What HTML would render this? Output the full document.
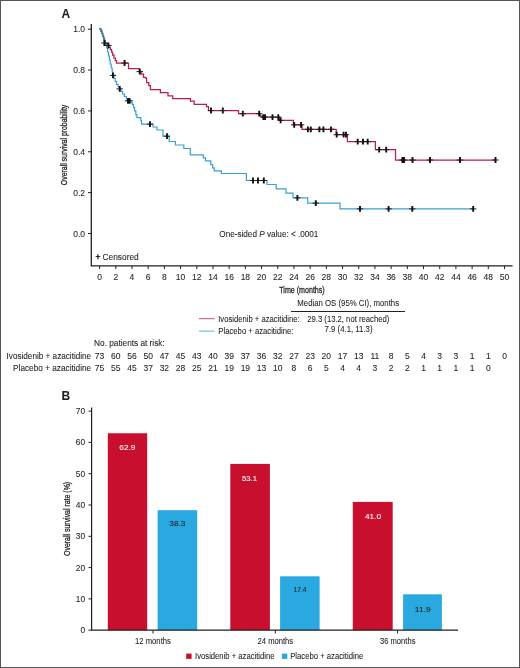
<!DOCTYPE html><html><head><meta charset="utf-8"><style>html,body{margin:0;padding:0;background:#fff;}svg{display:block;will-change:transform}</style></head><body>
<svg width="520" height="668" viewBox="0 0 520 668" style="font-family:'Liberation Sans', sans-serif">
<style>text{stroke:#231f20;stroke-width:0.08px}</style>
<rect x="0" y="0" width="520" height="668" fill="#fff"/>
<rect x="0.5" y="0.5" width="519" height="667" fill="none" stroke="#555" stroke-width="1"/>
<text x="61.5" y="17.6" font-size="12" font-weight="700" fill="#231f20">A</text>
<path d="M91.3 24 V265.8 H512.6" fill="none" stroke="#231f20" stroke-width="1.3"/>
<line x1="88" y1="233.50" x2="91" y2="233.50" stroke="#231f20" stroke-width="1"/>
<text x="85" y="236.50" font-size="8.5" text-anchor="end" fill="#231f20">0.0</text>
<line x1="88" y1="192.64" x2="91" y2="192.64" stroke="#231f20" stroke-width="1"/>
<text x="85" y="195.64" font-size="8.5" text-anchor="end" fill="#231f20">0.2</text>
<line x1="88" y1="151.78" x2="91" y2="151.78" stroke="#231f20" stroke-width="1"/>
<text x="85" y="154.78" font-size="8.5" text-anchor="end" fill="#231f20">0.4</text>
<line x1="88" y1="110.92" x2="91" y2="110.92" stroke="#231f20" stroke-width="1"/>
<text x="85" y="113.92" font-size="8.5" text-anchor="end" fill="#231f20">0.6</text>
<line x1="88" y1="70.06" x2="91" y2="70.06" stroke="#231f20" stroke-width="1"/>
<text x="85" y="73.06" font-size="8.5" text-anchor="end" fill="#231f20">0.8</text>
<line x1="88" y1="29.20" x2="91" y2="29.20" stroke="#231f20" stroke-width="1"/>
<text x="85" y="32.20" font-size="8.5" text-anchor="end" fill="#231f20">1.0</text>
<line x1="99.60" y1="266" x2="99.60" y2="269" stroke="#231f20" stroke-width="1"/>
<text x="99.60" y="279.7" font-size="8.5" text-anchor="middle" fill="#231f20">0</text>
<line x1="115.80" y1="266" x2="115.80" y2="269" stroke="#231f20" stroke-width="1"/>
<text x="115.80" y="279.7" font-size="8.5" text-anchor="middle" fill="#231f20">2</text>
<line x1="131.99" y1="266" x2="131.99" y2="269" stroke="#231f20" stroke-width="1"/>
<text x="131.99" y="279.7" font-size="8.5" text-anchor="middle" fill="#231f20">4</text>
<line x1="148.19" y1="266" x2="148.19" y2="269" stroke="#231f20" stroke-width="1"/>
<text x="148.19" y="279.7" font-size="8.5" text-anchor="middle" fill="#231f20">6</text>
<line x1="164.38" y1="266" x2="164.38" y2="269" stroke="#231f20" stroke-width="1"/>
<text x="164.38" y="279.7" font-size="8.5" text-anchor="middle" fill="#231f20">8</text>
<line x1="180.58" y1="266" x2="180.58" y2="269" stroke="#231f20" stroke-width="1"/>
<text x="180.58" y="279.7" font-size="8.5" text-anchor="middle" fill="#231f20">10</text>
<line x1="196.78" y1="266" x2="196.78" y2="269" stroke="#231f20" stroke-width="1"/>
<text x="196.78" y="279.7" font-size="8.5" text-anchor="middle" fill="#231f20">12</text>
<line x1="212.97" y1="266" x2="212.97" y2="269" stroke="#231f20" stroke-width="1"/>
<text x="212.97" y="279.7" font-size="8.5" text-anchor="middle" fill="#231f20">14</text>
<line x1="229.17" y1="266" x2="229.17" y2="269" stroke="#231f20" stroke-width="1"/>
<text x="229.17" y="279.7" font-size="8.5" text-anchor="middle" fill="#231f20">16</text>
<line x1="245.36" y1="266" x2="245.36" y2="269" stroke="#231f20" stroke-width="1"/>
<text x="245.36" y="279.7" font-size="8.5" text-anchor="middle" fill="#231f20">18</text>
<line x1="261.56" y1="266" x2="261.56" y2="269" stroke="#231f20" stroke-width="1"/>
<text x="261.56" y="279.7" font-size="8.5" text-anchor="middle" fill="#231f20">20</text>
<line x1="277.76" y1="266" x2="277.76" y2="269" stroke="#231f20" stroke-width="1"/>
<text x="277.76" y="279.7" font-size="8.5" text-anchor="middle" fill="#231f20">22</text>
<line x1="293.95" y1="266" x2="293.95" y2="269" stroke="#231f20" stroke-width="1"/>
<text x="293.95" y="279.7" font-size="8.5" text-anchor="middle" fill="#231f20">24</text>
<line x1="310.15" y1="266" x2="310.15" y2="269" stroke="#231f20" stroke-width="1"/>
<text x="310.15" y="279.7" font-size="8.5" text-anchor="middle" fill="#231f20">26</text>
<line x1="326.34" y1="266" x2="326.34" y2="269" stroke="#231f20" stroke-width="1"/>
<text x="326.34" y="279.7" font-size="8.5" text-anchor="middle" fill="#231f20">28</text>
<line x1="342.54" y1="266" x2="342.54" y2="269" stroke="#231f20" stroke-width="1"/>
<text x="342.54" y="279.7" font-size="8.5" text-anchor="middle" fill="#231f20">30</text>
<line x1="358.74" y1="266" x2="358.74" y2="269" stroke="#231f20" stroke-width="1"/>
<text x="358.74" y="279.7" font-size="8.5" text-anchor="middle" fill="#231f20">32</text>
<line x1="374.93" y1="266" x2="374.93" y2="269" stroke="#231f20" stroke-width="1"/>
<text x="374.93" y="279.7" font-size="8.5" text-anchor="middle" fill="#231f20">34</text>
<line x1="391.13" y1="266" x2="391.13" y2="269" stroke="#231f20" stroke-width="1"/>
<text x="391.13" y="279.7" font-size="8.5" text-anchor="middle" fill="#231f20">36</text>
<line x1="407.32" y1="266" x2="407.32" y2="269" stroke="#231f20" stroke-width="1"/>
<text x="407.32" y="279.7" font-size="8.5" text-anchor="middle" fill="#231f20">38</text>
<line x1="423.52" y1="266" x2="423.52" y2="269" stroke="#231f20" stroke-width="1"/>
<text x="423.52" y="279.7" font-size="8.5" text-anchor="middle" fill="#231f20">40</text>
<line x1="439.72" y1="266" x2="439.72" y2="269" stroke="#231f20" stroke-width="1"/>
<text x="439.72" y="279.7" font-size="8.5" text-anchor="middle" fill="#231f20">42</text>
<line x1="455.91" y1="266" x2="455.91" y2="269" stroke="#231f20" stroke-width="1"/>
<text x="455.91" y="279.7" font-size="8.5" text-anchor="middle" fill="#231f20">44</text>
<line x1="472.11" y1="266" x2="472.11" y2="269" stroke="#231f20" stroke-width="1"/>
<text x="472.11" y="279.7" font-size="8.5" text-anchor="middle" fill="#231f20">46</text>
<line x1="488.30" y1="266" x2="488.30" y2="269" stroke="#231f20" stroke-width="1"/>
<text x="488.30" y="279.7" font-size="8.5" text-anchor="middle" fill="#231f20">48</text>
<line x1="504.50" y1="266" x2="504.50" y2="269" stroke="#231f20" stroke-width="1"/>
<text x="504.50" y="279.7" font-size="8.5" text-anchor="middle" fill="#231f20">50</text>
<text transform="translate(66.96,185.13) rotate(-90)" x="0" y="0" font-size="9.2" fill="#231f20" style="stroke-width:0.28px" textLength="80.45" lengthAdjust="spacingAndGlyphs">Overall survival probability</text>
<text x="279.24" y="293.10" font-size="8.9" fill="#231f20" textLength="45.50" lengthAdjust="spacingAndGlyphs" style="stroke-width:0.28px">Time (months)</text>
<text x="95.40" y="259.60" font-size="8.3" fill="#231f20" textLength="43.33" lengthAdjust="spacingAndGlyphs"><tspan style="stroke-width:0.45px">+</tspan> Censored</text>
<text x="219.31" y="236.60" font-size="8.3" fill="#231f20" textLength="99.09" lengthAdjust="spacingAndGlyphs">One-sided <tspan font-style="italic">P</tspan> value: &lt; .0001</text>
<path d="M99.6 29 H100.6 V31 H101.6 V33.5 H102.6 V36 H103.6 V39 H104.6 V42 H105.6 V43.6 H107.4 V45.3 H108.8 V47.4 H110.4 V49.5 H111.6 V52 H112.6 V55 H114 V58 H115.3 V60.6 H116.5 V63 H128.5 V68.5 H139.3 V71.6 H141.2 V74.2 H143.5 V77.3 H145.8 V78.4 H146.6 V82.7 H148.8 V85.5 H150.4 V89.6 H160.4 V92.7 H168 V95.8 H172.7 V98.5 H190.4 V101.2 H194.2 V104.3 H206.5 V106.6 H208.5 V110.5 H238.5 V113.7 H260.2 V116 H262.2 V117.1 H279.4 V120.4 H293.4 V124.8 H302.1 V129.3 H336.2 V134.7 H347.4 V141.6 H375.4 V149.6 H395.5 V160 H496" fill="none" stroke="#b81f45" stroke-width="1.25" stroke-linejoin="miter"/>
<path d="M99.6 29 H100.6 V31 H101.6 V33.5 H102.6 V36 H103.6 V39 H104.6 V42 H105.6 V44.5 H106.6 V48 H107.6 V52 H108.6 V56 H109.4 V60 H110.2 V64 H111.2 V68 H112.2 V72 H113 V75.4 H114 V78.5 H115.2 V81.5 H116.6 V84.5 H118.2 V87 H119.7 V89 H121 V91.5 H122.6 V94 H124.4 V96.5 H126.4 V99 H128.5 V100.8 H130.8 V102.6 H132.3 V104.6 H133.6 V107.6 H134.6 V110.8 H135.8 V114.6 H136.9 V117.7 H140.8 V120.5 H141.5 V124.2 H153 V127 H157 V130 H163 V136.2 H169.2 V141.5 H175.4 V145 H183.8 V148.5 H190.3 V154.9 H203.3 V157.8 H205.5 V160.9 H210.8 V164.6 H212.7 V167.9 H214.2 V170.8 H221.4 V173.5 H246.4 V180.5 H267 V184.5 H276.2 V188.8 H286 V193.2 H293 V197.8 H307.7 V203.2 H340 V208.9 H473.8" fill="none" stroke="#3a9fd2" stroke-width="1.2" stroke-linejoin="miter"/>
<path d="M99.3 28.4 H100.2 V29.3 H101.4 V30.6 H102 V33 H102.8 V35.5 H103.5 V38 H104.2 V40.5 H104.9 V43 H106 V44.6" fill="none" stroke="#4a7790" stroke-width="1.15"/>
<path d="M101.20 43.00 H107.60 M105.20 45.50 H111.60 M121.40 63.00 H127.80 M136.60 71.60 H143.00 M207.80 110.50 H214.20 M219.60 110.50 H226.00 M239.60 113.70 H246.00 M256.00 113.70 H262.40 M260.10 117.10 H266.50 M261.80 117.10 H268.20 M269.30 117.10 H275.70 M275.10 117.10 H281.50 M277.40 120.40 H283.80 M291.00 124.80 H297.40 M297.80 124.80 H304.20 M304.70 129.30 H311.10 M307.60 129.30 H314.00 M316.20 129.30 H322.60 M320.20 129.30 H326.60 M327.80 129.30 H334.20 M333.50 134.70 H339.90 M340.40 134.70 H346.80 M342.80 134.70 H349.20 M354.50 141.60 H360.90 M359.80 141.60 H366.20 M364.50 141.60 H370.90 M376.00 149.60 H382.40 M383.00 149.60 H389.40 M399.20 160.00 H405.60 M400.80 160.00 H407.20 M409.30 160.00 H415.70 M426.80 160.00 H433.20 M456.80 160.00 H463.20 M492.30 160.00 H498.70 M109.80 75.40 H116.20 M116.50 88.90 H122.90 M124.80 100.80 H131.20 M126.40 100.80 H132.80 M146.80 124.20 H153.20 M163.80 136.20 H170.20 M249.80 180.50 H256.20 M254.80 180.50 H261.20 M260.60 180.50 H267.00 M294.20 197.80 H300.60 M312.60 203.20 H319.00 M356.80 208.90 H363.20 M385.40 208.90 H391.80 M409.10 208.90 H415.50 M470.00 208.90 H476.40" fill="none" stroke="#222" stroke-width="1"/>
<path d="M104.40 40.10 V45.90 M108.40 42.60 V48.40 M124.60 60.10 V65.90 M139.80 68.70 V74.50 M211.00 107.60 V113.40 M222.80 107.60 V113.40 M242.80 110.80 V116.60 M259.20 110.80 V116.60 M263.30 114.20 V120.00 M265.00 114.20 V120.00 M272.50 114.20 V120.00 M278.30 114.20 V120.00 M280.60 117.50 V123.30 M294.20 121.90 V127.70 M301.00 121.90 V127.70 M307.90 126.40 V132.20 M310.80 126.40 V132.20 M319.40 126.40 V132.20 M323.40 126.40 V132.20 M331.00 126.40 V132.20 M336.70 131.80 V137.60 M343.60 131.80 V137.60 M346.00 131.80 V137.60 M357.70 138.70 V144.50 M363.00 138.70 V144.50 M367.70 138.70 V144.50 M379.20 146.70 V152.50 M386.20 146.70 V152.50 M402.40 157.10 V162.90 M404.00 157.10 V162.90 M412.50 157.10 V162.90 M430.00 157.10 V162.90 M460.00 157.10 V162.90 M495.50 157.10 V162.90 M113.00 72.50 V78.30 M119.70 86.00 V91.80 M128.00 97.90 V103.70 M129.60 97.90 V103.70 M150.00 121.30 V127.10 M167.00 133.30 V139.10 M253.00 177.60 V183.40 M258.00 177.60 V183.40 M263.80 177.60 V183.40 M297.40 194.90 V200.70 M315.80 200.30 V206.10 M360.00 206.00 V211.80 M388.60 206.00 V211.80 M412.30 206.00 V211.80 M473.20 206.00 V211.80" fill="none" stroke="#111" stroke-width="1.9"/>
<text x="297.36" y="306.30" font-size="8.3" fill="#231f20" textLength="101.72" lengthAdjust="spacingAndGlyphs">Median OS (95% CI), months</text>
<line x1="291" y1="311.5" x2="405" y2="311.5" stroke="#231f20" stroke-width="1"/>
<line x1="199" y1="318.7" x2="214.6" y2="318.7" stroke="#b81f45" stroke-width="0.8"/>
<line x1="199" y1="331.1" x2="214.6" y2="331.1" stroke="#3a9fd2" stroke-width="0.8"/>
<text x="218.20" y="321.80" font-size="8.3" fill="#231f20" textLength="81.51" lengthAdjust="spacingAndGlyphs">Ivosidenib + azacitidine:</text>
<text x="218.37" y="333.80" font-size="8.3" fill="#231f20" textLength="75.04" lengthAdjust="spacingAndGlyphs">Placebo + azacitidine:</text>
<text x="307.22" y="322.10" font-size="8.3" fill="#231f20" textLength="82.08" lengthAdjust="spacingAndGlyphs">29.3 (13.2, not reached)</text>
<text x="324.60" y="332.10" font-size="8.3" fill="#231f20" textLength="47.90" lengthAdjust="spacingAndGlyphs">7.9 (4.1, 11.3)</text>
<text x="94.12" y="346.00" font-size="8.4" fill="#231f20" textLength="70.63" lengthAdjust="spacingAndGlyphs">No. patients at risk:</text>
<text x="6.55" y="358.90" font-size="8.4" fill="#231f20" textLength="84.61" lengthAdjust="spacingAndGlyphs">Ivosidenib + azacitidine</text>
<text x="13.12" y="371.40" font-size="8.4" fill="#231f20" textLength="78.04" lengthAdjust="spacingAndGlyphs">Placebo + azacitidine</text>
<text x="99.60" y="358.9" font-size="8.5" text-anchor="middle" fill="#231f20">73</text>
<text x="115.80" y="358.9" font-size="8.5" text-anchor="middle" fill="#231f20">60</text>
<text x="131.99" y="358.9" font-size="8.5" text-anchor="middle" fill="#231f20">56</text>
<text x="148.19" y="358.9" font-size="8.5" text-anchor="middle" fill="#231f20">50</text>
<text x="164.38" y="358.9" font-size="8.5" text-anchor="middle" fill="#231f20">47</text>
<text x="180.58" y="358.9" font-size="8.5" text-anchor="middle" fill="#231f20">45</text>
<text x="196.78" y="358.9" font-size="8.5" text-anchor="middle" fill="#231f20">43</text>
<text x="212.97" y="358.9" font-size="8.5" text-anchor="middle" fill="#231f20">40</text>
<text x="229.17" y="358.9" font-size="8.5" text-anchor="middle" fill="#231f20">39</text>
<text x="245.36" y="358.9" font-size="8.5" text-anchor="middle" fill="#231f20">37</text>
<text x="261.56" y="358.9" font-size="8.5" text-anchor="middle" fill="#231f20">36</text>
<text x="277.76" y="358.9" font-size="8.5" text-anchor="middle" fill="#231f20">32</text>
<text x="293.95" y="358.9" font-size="8.5" text-anchor="middle" fill="#231f20">27</text>
<text x="310.15" y="358.9" font-size="8.5" text-anchor="middle" fill="#231f20">23</text>
<text x="326.34" y="358.9" font-size="8.5" text-anchor="middle" fill="#231f20">20</text>
<text x="342.54" y="358.9" font-size="8.5" text-anchor="middle" fill="#231f20">17</text>
<text x="358.74" y="358.9" font-size="8.5" text-anchor="middle" fill="#231f20">13</text>
<text x="374.93" y="358.9" font-size="8.5" text-anchor="middle" fill="#231f20">11</text>
<text x="391.13" y="358.9" font-size="8.5" text-anchor="middle" fill="#231f20">8</text>
<text x="407.32" y="358.9" font-size="8.5" text-anchor="middle" fill="#231f20">5</text>
<text x="423.52" y="358.9" font-size="8.5" text-anchor="middle" fill="#231f20">4</text>
<text x="439.72" y="358.9" font-size="8.5" text-anchor="middle" fill="#231f20">3</text>
<text x="455.91" y="358.9" font-size="8.5" text-anchor="middle" fill="#231f20">3</text>
<text x="472.11" y="358.9" font-size="8.5" text-anchor="middle" fill="#231f20">1</text>
<text x="488.30" y="358.9" font-size="8.5" text-anchor="middle" fill="#231f20">1</text>
<text x="504.50" y="358.9" font-size="8.5" text-anchor="middle" fill="#231f20">0</text>
<text x="99.60" y="371.4" font-size="8.5" text-anchor="middle" fill="#231f20">75</text>
<text x="115.80" y="371.4" font-size="8.5" text-anchor="middle" fill="#231f20">55</text>
<text x="131.99" y="371.4" font-size="8.5" text-anchor="middle" fill="#231f20">45</text>
<text x="148.19" y="371.4" font-size="8.5" text-anchor="middle" fill="#231f20">37</text>
<text x="164.38" y="371.4" font-size="8.5" text-anchor="middle" fill="#231f20">32</text>
<text x="180.58" y="371.4" font-size="8.5" text-anchor="middle" fill="#231f20">28</text>
<text x="196.78" y="371.4" font-size="8.5" text-anchor="middle" fill="#231f20">25</text>
<text x="212.97" y="371.4" font-size="8.5" text-anchor="middle" fill="#231f20">21</text>
<text x="229.17" y="371.4" font-size="8.5" text-anchor="middle" fill="#231f20">19</text>
<text x="245.36" y="371.4" font-size="8.5" text-anchor="middle" fill="#231f20">19</text>
<text x="261.56" y="371.4" font-size="8.5" text-anchor="middle" fill="#231f20">13</text>
<text x="277.76" y="371.4" font-size="8.5" text-anchor="middle" fill="#231f20">10</text>
<text x="293.95" y="371.4" font-size="8.5" text-anchor="middle" fill="#231f20">8</text>
<text x="310.15" y="371.4" font-size="8.5" text-anchor="middle" fill="#231f20">6</text>
<text x="326.34" y="371.4" font-size="8.5" text-anchor="middle" fill="#231f20">5</text>
<text x="342.54" y="371.4" font-size="8.5" text-anchor="middle" fill="#231f20">4</text>
<text x="358.74" y="371.4" font-size="8.5" text-anchor="middle" fill="#231f20">4</text>
<text x="374.93" y="371.4" font-size="8.5" text-anchor="middle" fill="#231f20">3</text>
<text x="391.13" y="371.4" font-size="8.5" text-anchor="middle" fill="#231f20">2</text>
<text x="407.32" y="371.4" font-size="8.5" text-anchor="middle" fill="#231f20">2</text>
<text x="423.52" y="371.4" font-size="8.5" text-anchor="middle" fill="#231f20">1</text>
<text x="439.72" y="371.4" font-size="8.5" text-anchor="middle" fill="#231f20">1</text>
<text x="455.91" y="371.4" font-size="8.5" text-anchor="middle" fill="#231f20">1</text>
<text x="472.11" y="371.4" font-size="8.5" text-anchor="middle" fill="#231f20">1</text>
<text x="488.30" y="371.4" font-size="8.5" text-anchor="middle" fill="#231f20">0</text>
<text x="61.5" y="400.2" font-size="12" font-weight="700" fill="#231f20">B</text>
<rect x="107.8" y="433.25" width="39.40" height="196.95" fill="#c8102e"/>
<rect x="157.6" y="510.2" width="39.60" height="120.00" fill="#29a9e0"/>
<rect x="230.3" y="463.9" width="39.60" height="166.30" fill="#c8102e"/>
<rect x="280.1" y="576.3" width="39.50" height="53.90" fill="#29a9e0"/>
<rect x="352.8" y="501.9" width="39.90" height="128.30" fill="#c8102e"/>
<rect x="403.1" y="594.3" width="38.80" height="35.90" fill="#29a9e0"/>
<text x="119.29" y="449.50" font-size="7.9" fill="#fff" textLength="16.11" lengthAdjust="spacingAndGlyphs" style="stroke:#fff">62.9</text>
<text x="169.39" y="526.40" font-size="7.9" fill="#231f20" textLength="15.98" lengthAdjust="spacingAndGlyphs">38.3</text>
<text x="242.09" y="480.70" font-size="7.9" fill="#fff" textLength="14.87" lengthAdjust="spacingAndGlyphs" style="stroke:#fff">53.1</text>
<text x="293.60" y="591.80" font-size="7.9" fill="#231f20" textLength="12.80" lengthAdjust="spacingAndGlyphs">17.4</text>
<text x="364.92" y="518.80" font-size="7.9" fill="#fff" textLength="16.10" lengthAdjust="spacingAndGlyphs" style="stroke:#fff">41.0</text>
<text x="414.86" y="611.70" font-size="7.9" fill="#231f20" textLength="15.74" lengthAdjust="spacingAndGlyphs">11.9</text>
<path d="M91.6 407.6 V630.2 H458" fill="none" stroke="#231f20" stroke-width="1.2"/>
<line x1="88.5" y1="630.20" x2="91.6" y2="630.20" stroke="#231f20" stroke-width="1"/>
<text x="85" y="633.10" font-size="8.3" text-anchor="end" fill="#231f20">0</text>
<line x1="88.5" y1="598.90" x2="91.6" y2="598.90" stroke="#231f20" stroke-width="1"/>
<text x="85" y="601.80" font-size="8.3" text-anchor="end" fill="#231f20">10</text>
<line x1="88.5" y1="567.60" x2="91.6" y2="567.60" stroke="#231f20" stroke-width="1"/>
<text x="85" y="570.50" font-size="8.3" text-anchor="end" fill="#231f20">20</text>
<line x1="88.5" y1="536.30" x2="91.6" y2="536.30" stroke="#231f20" stroke-width="1"/>
<text x="85" y="539.20" font-size="8.3" text-anchor="end" fill="#231f20">30</text>
<line x1="88.5" y1="505.00" x2="91.6" y2="505.00" stroke="#231f20" stroke-width="1"/>
<text x="85" y="507.90" font-size="8.3" text-anchor="end" fill="#231f20">40</text>
<line x1="88.5" y1="473.70" x2="91.6" y2="473.70" stroke="#231f20" stroke-width="1"/>
<text x="85" y="476.60" font-size="8.3" text-anchor="end" fill="#231f20">50</text>
<line x1="88.5" y1="442.40" x2="91.6" y2="442.40" stroke="#231f20" stroke-width="1"/>
<text x="85" y="445.30" font-size="8.3" text-anchor="end" fill="#231f20">60</text>
<line x1="88.5" y1="411.10" x2="91.6" y2="411.10" stroke="#231f20" stroke-width="1"/>
<text x="85" y="414.00" font-size="8.3" text-anchor="end" fill="#231f20">70</text>
<line x1="153.00" y1="630.2" x2="153.00" y2="633.5" stroke="#231f20" stroke-width="1"/>
<text x="135.02" y="643.80" font-size="8.2" fill="#231f20" textLength="35.86" lengthAdjust="spacingAndGlyphs">12 months</text>
<line x1="275.30" y1="630.2" x2="275.30" y2="633.5" stroke="#231f20" stroke-width="1"/>
<text x="257.52" y="643.80" font-size="8.2" fill="#231f20" textLength="35.65" lengthAdjust="spacingAndGlyphs">24 months</text>
<line x1="397.60" y1="630.2" x2="397.60" y2="633.5" stroke="#231f20" stroke-width="1"/>
<text x="379.91" y="643.80" font-size="8.2" fill="#231f20" textLength="35.56" lengthAdjust="spacingAndGlyphs">36 months</text>
<text transform="translate(69.53,555.93) rotate(-90)" x="0" y="0" font-size="9.3" fill="#231f20" style="stroke-width:0.28px" textLength="74.07" lengthAdjust="spacingAndGlyphs">Overall survival rate (%)</text>
<rect x="186.2" y="653.6" width="5.4" height="5.3" fill="#c8102e"/>
<text x="195.10" y="658.80" font-size="8.3" fill="#231f20" textLength="79.44" lengthAdjust="spacingAndGlyphs">Ivosidenib + azacitidine</text>
<rect x="281.9" y="653.6" width="5.4" height="5.3" fill="#29a9e0"/>
<text x="290.17" y="658.80" font-size="8.3" fill="#231f20" textLength="73.08" lengthAdjust="spacingAndGlyphs">Placebo + azacitidine</text>
</svg></body></html>
